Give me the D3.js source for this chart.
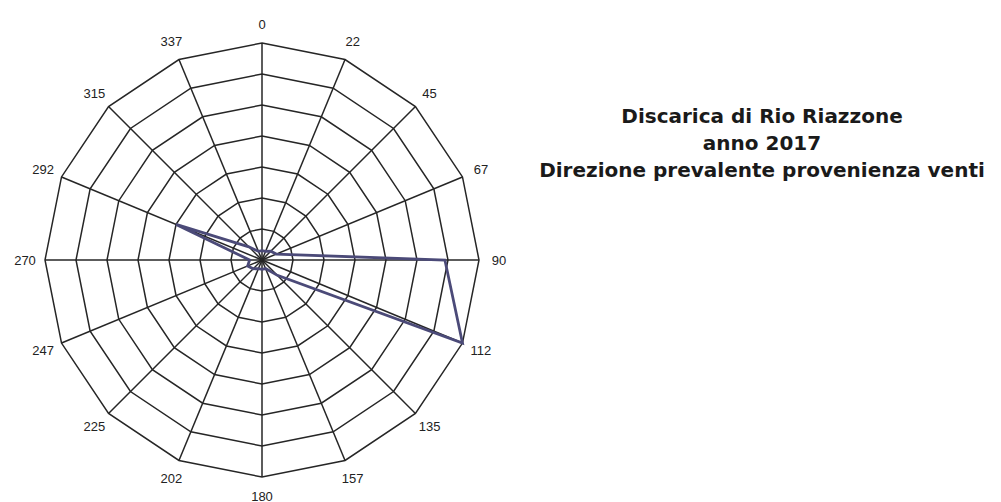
<!DOCTYPE html>
<html>
<head>
<meta charset="utf-8">
<script src="https://cdn.jsdelivr.net/npm/d3@7"></script>
<style>
  body { margin: 0; background: #fff; }
  svg { display: block; }
</style>
</head>
<body>
<div id="chart"></div>
<script>
var width = 1001, height = 502;
var cx = 262, cy = 260, radius = 217;

var directions = ["0", "22", "45", "67", "90", "112", "135", "157",
                  "180", "202", "225", "247", "270", "292", "315", "337"];
// frequenza (%) per direzione di provenienza
var frequency = [1.5, 1.5, 2, 2.5, 29.5, 35, 3.5, 1.5,
                 1.5, 1.5, 2, 2.5, 2, 15, 3, 1.5];
var rings = [5, 10, 15, 20, 25, 30, 35];
var titleLines = ["Discarica di Rio Riazzone", "anno 2017", "Direzione prevalente provenienza venti"];

var gridColor = "#262626";
var lineColor = "#4b4a78";

var svg = d3.select("#chart").append("svg")
    .attr("width", width)
    .attr("height", height);

var g = svg.append("g")
    .attr("transform", "translate(" + cx + "," + cy + ")");

var angle = d3.scalePoint()
    .domain(directions)
    .range([0, 2 * Math.PI * (directions.length - 1) / directions.length]);

var r = d3.scaleLinear()
    .domain([0, 35])
    .range([0, radius]);

var ringLine = d3.lineRadial()
    .angle(d => angle(d))
    .curve(d3.curveLinearClosed);

// anelli
g.selectAll(".ring")
    .data(rings)
    .enter().append("path")
    .attr("class", "ring")
    .attr("d", v => ringLine.radius(r(v))(directions))
    .attr("fill", "none")
    .attr("stroke", gridColor)
    .attr("stroke-width", 1.5);

// raggi
g.selectAll(".spoke")
    .data(directions)
    .enter().append("line")
    .attr("class", "spoke")
    .attr("x1", 0).attr("y1", 0)
    .attr("x2", d => r(35) * Math.sin(angle(d)))
    .attr("y2", d => -r(35) * Math.cos(angle(d)))
    .attr("stroke", gridColor)
    .attr("stroke-width", 1.5);

// etichette direzioni
g.selectAll(".dir")
    .data(directions)
    .enter().append("text")
    .attr("class", "dir")
    .attr("x", d => (radius + 20) * Math.sin(angle(d)))
    .attr("y", d => -(radius + 19) * Math.cos(angle(d)))
    .attr("text-anchor", "middle")
    .attr("dominant-baseline", "central")
    .style("font-family", "Liberation Sans, Arial, sans-serif")
    .style("font-size", "13px")
    .style("fill", "#222")
    .text(d => d);

// poligono dati
var dataLine = d3.lineRadial()
    .angle((d, i) => angle(directions[i]))
    .radius(d => r(d))
    .curve(d3.curveLinearClosed);

g.append("path")
    .datum(frequency)
    .attr("d", dataLine)
    .attr("fill", "none")
    .attr("stroke", lineColor)
    .attr("stroke-width", 2.8)
    .attr("stroke-linejoin", "miter");

// titolo
svg.append("g").selectAll("text")
    .data(titleLines)
    .enter().append("text")
    .attr("x", 762)
    .attr("y", (d, i) => 123 + i * 27)
    .attr("text-anchor", "middle")
    .style("font-family", "DejaVu Sans, sans-serif")
    .style("font-weight", "bold")
    .style("font-size", "20px")
    .style("fill", "#1a1a1a")
    .text(d => d);
</script>
</body>
</html>
